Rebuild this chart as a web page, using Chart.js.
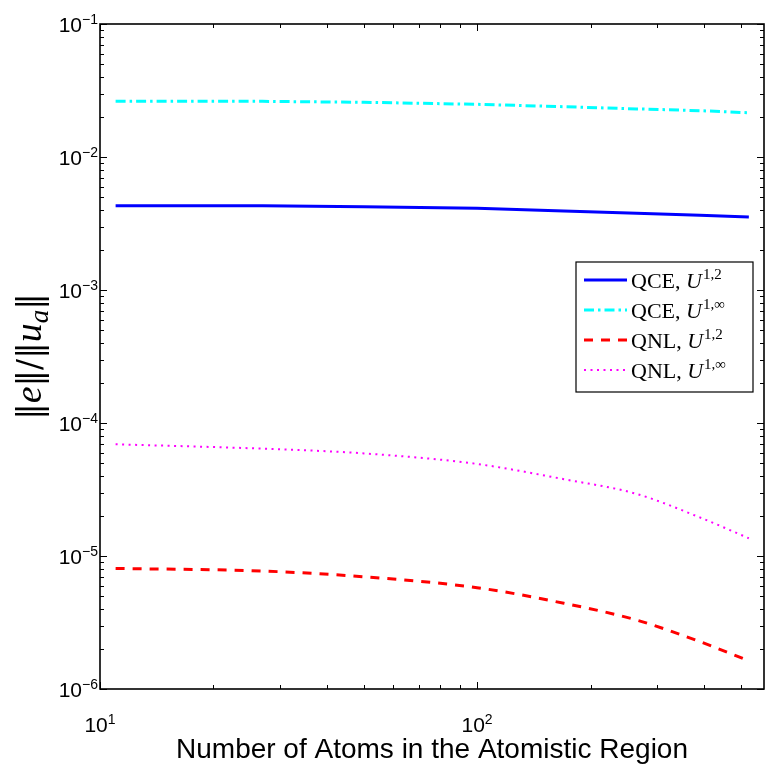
<!DOCTYPE html>
<html>
<head>
<meta charset="utf-8">
<script src="https://cdn.jsdelivr.net/npm/chart.js@4.4.1/dist/chart.umd.min.js"></script>
<style>
  html, body { margin: 0; padding: 0; background: #fff; }
  #wrap { width: 765px; height: 771px; }
</style>
</head>
<body>
<div id="wrap"><canvas id="myChart" width="765" height="771"></canvas></div>
<script>
// number of atoms in the atomistic region (x)
const atoms = [11, 27, 50, 100, 170, 265, 390, 526];
// relative error ||e||/||u_a|| for each method / norm
const qceU12   = [4.30e-3, 4.30e-3, 4.22e-3, 4.11e-3, 3.92e-3, 3.77e-3, 3.65e-3, 3.54e-3];
const qceUinf  = [2.62e-2, 2.62e-2, 2.58e-2, 2.49e-2, 2.39e-2, 2.30e-2, 2.23e-2, 2.15e-2];
const qnlU12   = [8.07e-6, 7.71e-6, 6.98e-6, 5.78e-6, 4.41e-6, 3.30e-6, 2.27e-6, 1.63e-6];
const qnlUinf  = [6.92e-5, 6.41e-5, 5.91e-5, 4.92e-5, 3.78e-5, 2.93e-5, 1.95e-5, 1.36e-5];

const seriesNames = ['QCE, ', 'QCE, ', 'QNL, ', 'QNL, '];
const seriesSup = ['1,2', '1,\u221E', '1,2', '1,\u221E'];

// axis ticks (powers of ten)
const xTickExps = [1, 2];
const yTickExps = [-1, -2, -3, -4, -5, -6];
const xMin = 10, xMax = 577;
const yMin = 1e-6, yMax = 1e-1;

const xTitle = 'Number of Atoms in the Atomistic Region';

function pts(ys) {
    return atoms.map((a, i) => ({ x: a, y: ys[i] }));
}

// draw "10" with a superscript exponent
function drawPow(ctx, exp, x, y, align) {
    const base = '10';
    const sup = exp < 0 ? '\u2212' + (-exp) : String(exp);
    ctx.font = '21px "Liberation Sans", Arial, sans-serif';
    const wb = ctx.measureText(base).width;
    ctx.font = '14px "Liberation Sans", Arial, sans-serif';
    const ws = ctx.measureText(sup).width;
    let x0 = x;
    if (align === 'right') x0 = x - wb - ws;
    if (align === 'center') x0 = x - (wb + ws) / 2;
    ctx.textAlign = 'left';
    ctx.textBaseline = 'alphabetic';
    ctx.font = '21px "Liberation Sans", Arial, sans-serif';
    ctx.fillText(base, x0, y);
    ctx.font = '14px "Liberation Sans", Arial, sans-serif';
    ctx.fillText(sup, x0 + wb, y - 8);
}

const matlabAxes = {
    id: 'matlabAxes',
    beforeDraw(chart) {
        const ctx = chart.ctx;
        ctx.save();
        ctx.fillStyle = '#fff';
        ctx.fillRect(0, 0, chart.width, chart.height);
        ctx.restore();
    },
    afterDraw(chart) {
        const ctx = chart.ctx;
        const a = chart.chartArea;
        const xs = chart.scales.x, ys = chart.scales.y;
        ctx.save();
        ctx.strokeStyle = '#000';
        ctx.fillStyle = '#000';

        // ticks
        ctx.lineWidth = 1;
        ctx.beginPath();
        for (let d = 1; d <= 2; d++) {
            for (let m = 1; m <= 9; m++) {
                const v = m * Math.pow(10, d);
                if (v < xMin || v > xMax) continue;
                const px = Math.round(xs.getPixelForValue(v)) + 0.5;
                const len = m === 1 ? 7 : 4;
                ctx.moveTo(px, a.bottom); ctx.lineTo(px, a.bottom - len);
                ctx.moveTo(px, a.top); ctx.lineTo(px, a.top + len);
            }
        }
        for (let d = -6; d <= -1; d++) {
            for (let m = 1; m <= 9; m++) {
                const v = m * Math.pow(10, d);
                if (v < yMin || v > yMax * 1.0001) continue;
                const py = Math.round(ys.getPixelForValue(v)) + 0.5;
                const len = m === 1 ? 7 : 4;
                ctx.moveTo(a.left, py); ctx.lineTo(a.left + len, py);
                ctx.moveTo(a.right, py); ctx.lineTo(a.right - len, py);
            }
        }
        ctx.stroke();

        // frame
        ctx.lineWidth = 1.6;
        ctx.strokeRect(a.left, a.top, a.right - a.left, a.bottom - a.top);

        // tick labels
        yTickExps.forEach(e => {
            const py = ys.getPixelForValue(Math.pow(10, e));
            drawPow(ctx, e, a.left - 2, py + 8, 'right');
        });
        xTickExps.forEach(e => {
            const px = xs.getPixelForValue(Math.pow(10, e));
            drawPow(ctx, e, px, a.bottom + 43, 'center');
        });

        // x title
        ctx.font = '28px "Liberation Sans", Arial, sans-serif';
        ctx.textAlign = 'center';
        ctx.textBaseline = 'alphabetic';
        ctx.fillText(xTitle, (a.left + a.right) / 2, a.bottom + 69);

        // y title  ||e|| / ||u_a||
        ctx.save();
        ctx.translate(41, (a.top + a.bottom) / 2);
        ctx.rotate(-Math.PI / 2);
        const parts = [
            ['\u2016', '33px "DejaVu Serif", serif', 0],
            ['e', 'italic 38px "Liberation Serif", serif', 0],
            ['\u2016/\u2016', '33px "DejaVu Serif", serif', 0],
            ['u', 'italic 38px "Liberation Serif", serif', 0],
            ['a', 'italic 27px "Liberation Serif", serif', 7],
            ['\u2016', '33px "DejaVu Serif", serif', 0]
        ];
        let total = 0;
        parts.forEach(p => { ctx.font = p[1]; total += ctx.measureText(p[0]).width; });
        let cx = -total / 2;
        ctx.textAlign = 'left';
        parts.forEach(p => {
            ctx.font = p[1];
            ctx.fillText(p[0], cx, p[2]);
            cx += ctx.measureText(p[0]).width;
        });
        ctx.restore();

        // legend
        const lx = 576, ly = 262, lw = 177, lh = 130;
        ctx.fillStyle = '#fff';
        ctx.fillRect(lx, ly, lw, lh);
        ctx.lineWidth = 1.2;
        ctx.strokeStyle = '#000';
        ctx.strokeRect(lx, ly, lw, lh);
        ctx.textAlign = 'left';
        ctx.textBaseline = 'alphabetic';
        chart.data.datasets.forEach((ds, i) => {
            const ry = ly + 18 + i * 30;
            ctx.save();
            ctx.strokeStyle = ds.borderColor;
            ctx.lineWidth = ds.borderWidth;
            ctx.setLineDash(ds.borderDash || []);
            ctx.beginPath();
            ctx.moveTo(lx + 8, ry);
            ctx.lineTo(lx + 51, ry);
            ctx.stroke();
            ctx.restore();
            ctx.fillStyle = '#000';
            let tx = lx + 55;
            const by = ry + 8;
            ctx.font = '22px "Liberation Serif", serif';
            ctx.fillText(seriesNames[i], tx, by);
            tx += ctx.measureText(seriesNames[i]).width;
            ctx.font = 'italic 22px "Liberation Serif", serif';
            ctx.fillText('U', tx, by);
            tx += ctx.measureText('U').width + 1;
            ctx.font = '15px "Liberation Serif", serif';
            ctx.fillText(seriesSup[i], tx, by - 9);
        });

        ctx.restore();
    }
};

const ctx = document.getElementById('myChart').getContext('2d');
const myChart = new Chart(ctx, {
    type: 'line',
    data: {
        datasets: [{
            label: 'QCE U12',
            data: pts(qceU12),
            borderColor: '#0000ff',
            borderWidth: 3,
            pointRadius: 0,
            tension: 0
        },
        {
            label: 'QCE Uinf',
            data: pts(qceUinf),
            borderColor: '#00ffff',
            borderWidth: 3,
            borderDash: [10, 4, 2.5, 4],
            pointRadius: 0,
            tension: 0
        },
        {
            label: 'QNL U12',
            data: pts(qnlU12),
            borderColor: '#ff0000',
            borderWidth: 3,
            borderDash: [9, 8],
            pointRadius: 0,
            cubicInterpolationMode: 'monotone'
        },
        {
            label: 'QNL Uinf',
            data: pts(qnlUinf),
            borderColor: '#ff00ff',
            borderWidth: 2,
            borderDash: [2, 4.5],
            pointRadius: 0,
            cubicInterpolationMode: 'monotone'
        }]
    },
    options: {
        responsive: false,
        devicePixelRatio: 1,
        animation: false,
        layout: { padding: { left: 100, top: 24, right: 1, bottom: 82 } },
        plugins: { legend: { display: false }, tooltip: { enabled: false } },
        scales: {
            x: { type: 'logarithmic', min: xMin, max: xMax, display: false },
            y: { type: 'logarithmic', min: yMin, max: yMax, display: false }
        }
    },
    plugins: [matlabAxes]
});
</script>
</body>
</html>
